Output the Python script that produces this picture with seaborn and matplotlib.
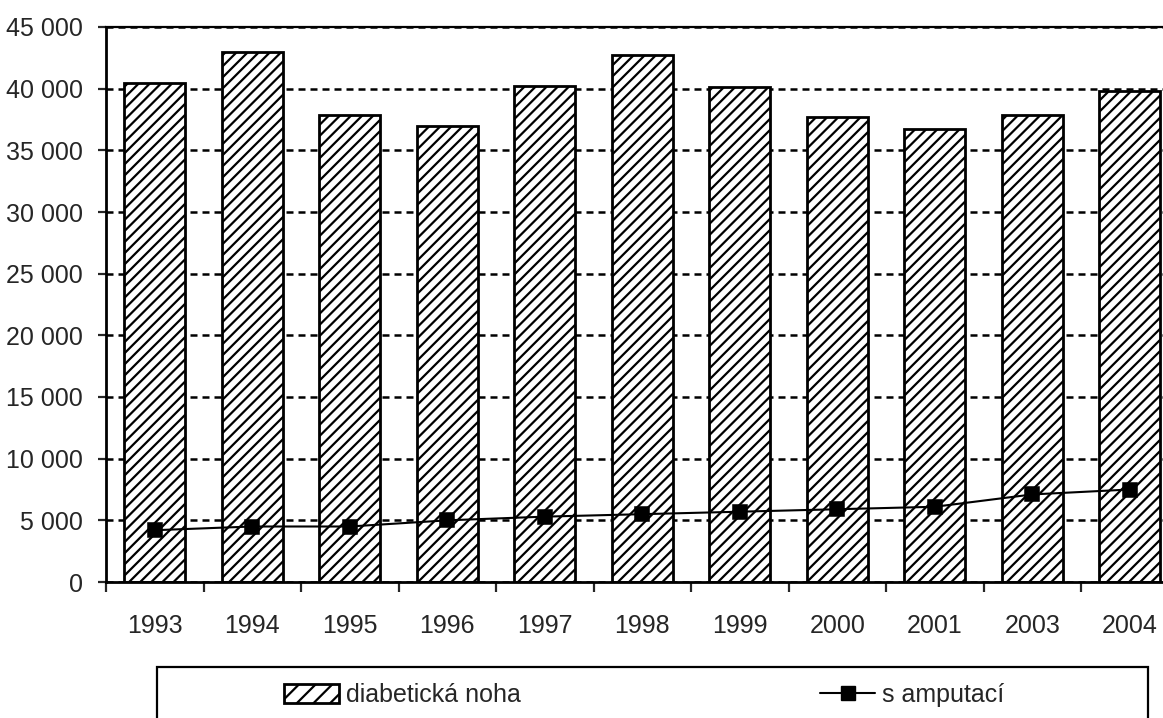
import matplotlib
matplotlib.use('Agg')
import matplotlib.pyplot as plt
import seaborn as sns
from matplotlib.patches import Patch, Rectangle
from matplotlib.lines import Line2D
from matplotlib.ticker import FixedLocator, FuncFormatter

sns.set_style('ticks')
plt.rcParams['font.family'] = ['Liberation Sans Narrow', 'Liberation Sans', 'DejaVu Sans']
plt.rcParams['hatch.color'] = 'black'
plt.rcParams['hatch.linewidth'] = 1.6

# values
years = ['1993', '1994', '1995', '1996', '1997', '1998', '1999', '2000', '2001', '2003', '2004']
diabeticka_noha = [40500, 43000, 37900, 37000, 40200, 42700, 40100, 37700, 36700, 37900, 39800]
s_amputaci = [4200, 4500, 4500, 5000, 5300, 5500, 5700, 5900, 6100, 7100, 7500]

FS = 18

fig = plt.figure(figsize=(11.63, 7.18), dpi=100)
ax = fig.add_axes([106 / 1163, 136 / 718, 1072.5 / 1163, 555 / 718])

sns.barplot(x=years, y=diabeticka_noha, color='white', saturation=1, edgecolor='black',
            linewidth=2, hatch='///', width=0.63, ax=ax)
sns.pointplot(x=years, y=s_amputaci, color='black', markers='s', markersize=10.5,
              linewidth=1.5, errorbar=None, ax=ax)

ax.set_ylim(0, 45000)
ax.set_xlim(-0.5, 10.5)
ax.set_yticks(range(0, 45001, 5000))
ax.yaxis.set_major_formatter(FuncFormatter(lambda v, p: f'{int(v):,}'.replace(',', ' ')))
ax.yaxis.grid(True, color='black', linestyle=(0, (2.8, 2)), linewidth=1.8)
ax.set_axisbelow(True)

ax.xaxis.set_minor_locator(FixedLocator([i - 0.5 for i in range(len(years) + 1)]))
ax.tick_params(axis='x', which='major', length=0, pad=23, labelsize=FS)
ax.tick_params(axis='x', which='minor', length=7, width=1.6, direction='out')
ax.tick_params(axis='y', length=6, width=1.6, pad=10.5, labelsize=FS)
ax.set_xlabel('')
ax.set_ylabel('')

for side in ['left', 'bottom', 'top']:
    ax.spines[side].set_visible(True)
    ax.spines[side].set_color('black')
ax.spines['left'].set_linewidth(2)
ax.spines['bottom'].set_linewidth(2)
ax.spines['top'].set_linewidth(1.6)
ax.spines['right'].set_visible(False)

# legend box
fig.patches.append(Rectangle((157 / 1163, -0.05), 991 / 1163, 0.05 + 51 / 718,
                             transform=fig.transFigure, fill=False, edgecolor='black', linewidth=1.6))
bar_handle = Patch(facecolor='white', edgecolor='black', hatch='//', linewidth=2)
line_handle = Line2D([], [], color='black', marker='s', markersize=10.5, linewidth=1.5)
fig.legend([bar_handle], ['diabetická noha'], loc='center left', bbox_to_anchor=(284 / 1163, 1 - 695 / 718),
           frameon=False, fontsize=FS, handlelength=2.2, handleheight=0.76, handletextpad=0.28, borderpad=0,
           borderaxespad=0)
fig.legend([line_handle], ['s amputací'], loc='center left', bbox_to_anchor=(820 / 1163, 1 - 695 / 718),
           frameon=False, fontsize=FS, handlelength=2.2, handletextpad=0.3, borderpad=0, borderaxespad=0)

fig.savefig('out.png', dpi=100)
